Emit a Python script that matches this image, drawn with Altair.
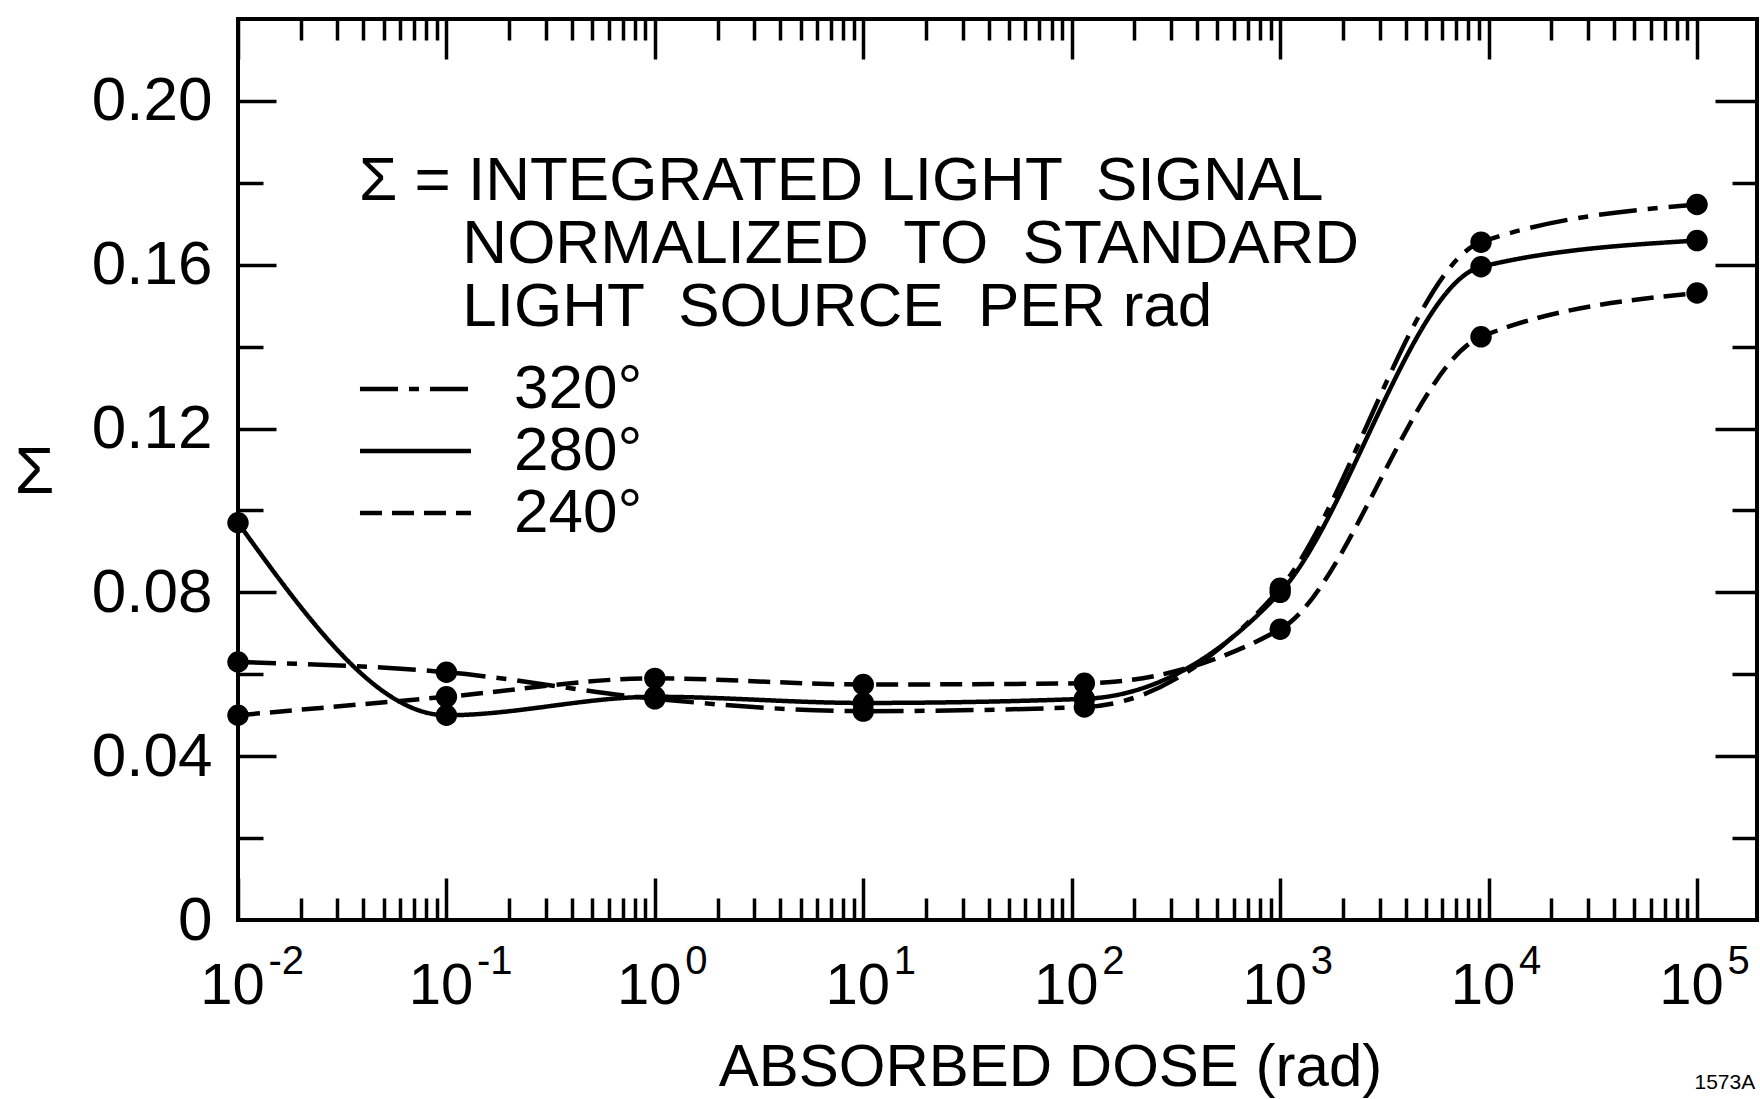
import altair as alt
import pandas as pd

# ---- data ----
dose = [0.01, 0.1, 1, 10, 115, 1000, 9200, 100000]
sigma_320 = [0.063, 0.0605, 0.054, 0.051, 0.052, 0.081, 0.1655, 0.1747]
sigma_280 = [0.097, 0.050, 0.0545, 0.053, 0.054, 0.080, 0.1595, 0.1659]
sigma_240 = [0.050, 0.0545, 0.059, 0.0575, 0.0578, 0.071, 0.1424, 0.1531]
series = ["320°", "280°", "240°"]
dash_patterns = [[38, 11, 10, 11], [1, 0], [22, 10]]

decades = [1e-2, 1e-1, 1e0, 1e1, 1e2, 1e3, 1e4, 1e5]
minor_mult = [2, 3, 4, 5, 6, 7, 8, 9]
minor_x = [d * m for d in decades[:-1] for m in minor_mult]
y_label_vals = [0, 0.04, 0.08, 0.12, 0.16, 0.20]
y_major = [0.04, 0.08, 0.12, 0.16, 0.20]
y_minor = [0.02, 0.06, 0.10, 0.14, 0.18]

INDENT = "\u200b" + "\u00a0" * 6
legend_title = [
    "Σ = INTEGRATED LIGHT \u00a0SIGNAL",
    INDENT + "NORMALIZED \u00a0TO \u00a0STANDARD",
    INDENT + "LIGHT \u00a0SOURCE \u00a0PER rad",
]

rows = []
for name, vals in zip(series, [sigma_320, sigma_280, sigma_240]):
    for d, v in zip(dose, vals):
        rows.append({"dose": d, "sigma": v, "series": name})
df = pd.DataFrame(rows)

W, H = 1519, 901
FONT = "Liberation Sans"

xscale = alt.Scale(type="log", domain=[0.01, 194000], nice=False)
yscale = alt.Scale(domain=[0, 0.22], nice=False, zero=False)


def tick_axis(orient, offset, values, size):
    return alt.Axis(orient=orient, offset=offset, values=values, tickSize=size,
                    tickWidth=3.5, tickColor="black", labels=False, domain=False,
                    grid=False, title=None)


ax_x_labels = alt.Axis(
    orient="bottom", values=decades, labelExpr="'10'", ticks=False, tickSize=0,
    domain=False, grid=False, labelFontSize=58, labelFont=FONT, labelColor="black",
    labelBaseline="alphabetic", labelPadding=83, labelOffset=-6, labelFlush=False,
    labelOverlap=False,
    title="ABSORBED DOSE (rad)", titleFontSize=60, titleFont=FONT, titleFontWeight="normal",
    titleColor="black", titleX=812, titleY=165, titleBaseline="alphabetic", titleAlign="center",
)
ax_x_exp = alt.Axis(
    orient="bottom", values=decades, labelExpr="'' + round(log(datum.value)/LN10)",
    ticks=False, tickSize=0, domain=False, grid=False, labelFontSize=40, labelFont=FONT,
    labelColor="black", labelBaseline="alphabetic", labelAlign="left", labelOffset=30,
    labelPadding=53, labelFlush=False, labelOverlap=False,
    title="1573A", titleFontSize=21, titleFont=FONT, titleFontWeight="normal",
    titleColor="black", titleX=1456, titleY=168, titleBaseline="alphabetic", titleAlign="left",
)
ax_y_labels = alt.Axis(
    orient="left", values=y_label_vals,
    labelExpr="datum.value == 0 ? '0' : format(datum.value, '.2f')",
    ticks=False, tickSize=0, domain=False, grid=False, labelFontSize=62, labelFont=FONT,
    labelColor="black", labelPadding=26, labelOverlap=False, labelFlush=False,
    title="Σ", titleAngle=0, titleFontSize=64, titleFont=FONT, titleFontWeight="normal",
    titleColor="black", titleX=-204, titleY=473, titleBaseline="alphabetic", titleAlign="center",
)

# legend line sample: a wide path on a small symbol so rows stay compact
SYMBOL_PATH = "M-2.73,0H7.36"

lines = alt.Chart(df).mark_line(interpolate="monotone", strokeWidth=4.5, color="black").encode(
    x=alt.X("dose:Q", scale=xscale, axis=ax_x_labels),
    y=alt.Y("sigma:Q", scale=yscale, axis=ax_y_labels),
    strokeDash=alt.StrokeDash(
        "series:N",
        scale=alt.Scale(domain=series, range=dash_patterns),
        legend=alt.Legend(
            title=legend_title, orient="none", legendX=121, legendY=132,
            symbolType=SYMBOL_PATH, symbolSize=484, symbolStrokeWidth=4.5,
            symbolStrokeColor="black", symbolFillColor="transparent",
            labelFontSize=62, labelFont=FONT,
            labelColor="black", labelOffset=93, labelLimit=600,
            titleFontSize=62, titleFont=FONT, titleFontWeight="normal", titleColor="black",
            titleLineHeight=63, titlePadding=19, titleLimit=2000, rowPadding=0, padding=0,
        ),
    ),
    detail="series:N",
)

points = alt.Chart(df).mark_circle(size=460, color="black", opacity=1).encode(
    x=alt.X("dose:Q", scale=xscale, axis=ax_x_exp),
    y=alt.Y("sigma:Q", scale=yscale, axis=tick_axis("right", -W, y_major, 38)),
    detail="series:N",
)


def ghost(xaxis, yaxis):
    return alt.Chart(df).mark_circle(opacity=0).encode(
        x=alt.X("dose:Q", scale=xscale, axis=xaxis),
        y=alt.Y("sigma:Q", scale=yscale, axis=yaxis),
    )


g1 = ghost(tick_axis("top", -H, decades, 42), tick_axis("right", -W, y_minor, 25))
g2 = ghost(tick_axis("top", -H, minor_x, 22), tick_axis("left", -W, y_major, 42))
g3 = ghost(tick_axis("bottom", -H, decades, 40), tick_axis("left", -W, y_minor, 25))
g4 = ghost(tick_axis("bottom", -H, minor_x, 21), None)

chart = (
    alt.layer(lines, points, g1, g2, g3, g4)
    .resolve_axis(x="independent", y="independent")
    .properties(width=W, height=H, autosize="none",
                padding={"left": 238, "top": 19, "right": 3, "bottom": 179},
                background="white")
    .configure(font=FONT)
    .configure_view(stroke="black", strokeWidth=4)
)

chart.save("out.html", embed_options={"renderer": "svg", "actions": False})
